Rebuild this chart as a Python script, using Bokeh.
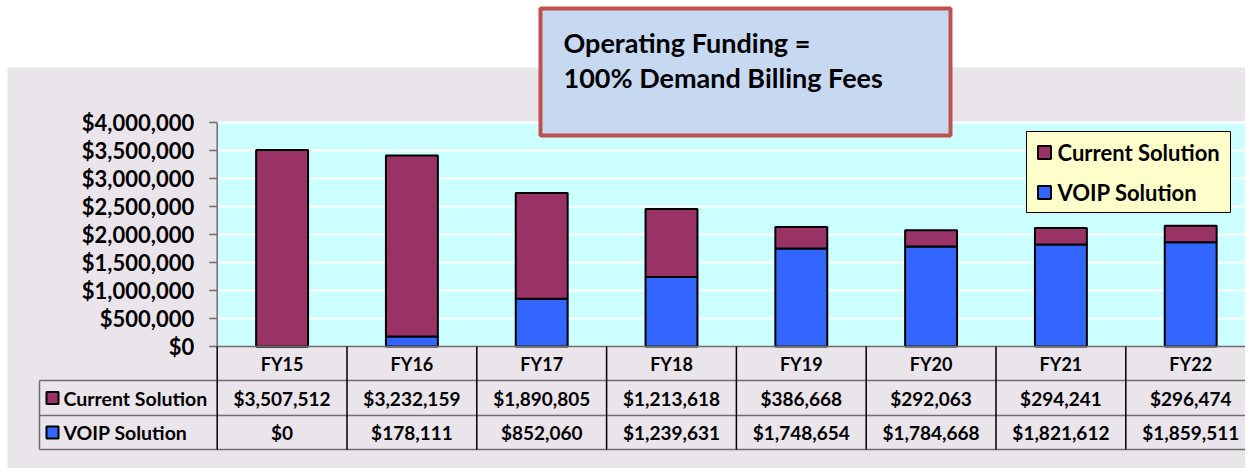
from bokeh.plotting import figure
from bokeh.models import Range1d, ColumnDataSource
from bokeh.core.properties import value
from bokeh.embed import file_html
from bokeh.resources import INLINE

# ---------------- data ----------------
categories = ["FY15", "FY16", "FY17", "FY18", "FY19", "FY20", "FY21", "FY22"]
current_solution = [3507512, 3232159, 1890805, 1213618, 386668, 292063, 294241, 296474]
voip_solution = [0, 178111, 852060, 1239631, 1748654, 1784668, 1821612, 1859511]
series_names = ["Current Solution", "VOIP Solution"]
y_ticks = [0, 500000, 1000000, 1500000, 2000000, 2500000, 3000000, 3500000, 4000000]
y_tick_labels = ["$0", "$500,000", "$1,000,000", "$1,500,000", "$2,000,000",
                 "$2,500,000", "$3,000,000", "$3,500,000", "$4,000,000"]
title_lines = ["Operating Funding =", "100% Demand Billing Fees"]

# ---------------- style ----------------
FONT = value("Lato")
MAROON = "#993366"
BLUE = "#3366FF"
PANEL = "#EAE4EB"
PLOTBG = "#CCFFFF"
LEGBG = "#FFFFCC"
BOXBG = "#C6D9F1"
BOXLINE = "#C0504D"
GRAYLINE = "#6E6E6E"

W, H = 1245, 468
PX0, STEP = 216.7, 129.8      # canvas x of plot-area left, width of one category
Y0, YTOP = 346.0, 122.0       # canvas y of $0 and of top tick
vmax = y_ticks[-1]
scale = (Y0 - YTOP) / vmax
n = len(categories)

p = figure(width=W, height=H, output_backend="svg", toolbar_location=None,
           x_range=Range1d(0, W), y_range=Range1d(H, 0), min_border=0,
           x_axis_location=None, y_axis_location=None,
           background_fill_color="white", border_fill_color="white",
           outline_line_color=None)
p.grid.visible = False
p.extra_x_ranges = {"cat": Range1d(-PX0 / STEP, (W - PX0) / STEP)}
p.extra_y_ranges = {"val": Range1d(-(H - Y0) / scale, Y0 / scale)}

# panel background
p.quad(left=[7], right=[W], top=[67], bottom=[H], fill_color=PANEL, line_color=None)

# plot area
p.quad(left=[0], right=[n], bottom=[0], top=[vmax], x_range_name="cat", y_range_name="val",
       fill_color=PLOTBG, line_color=None)
p.segment(x0=[0] * (len(y_ticks) - 1), x1=[n] * (len(y_ticks) - 1),
          y0=y_ticks[1:], y1=y_ticks[1:], x_range_name="cat", y_range_name="val",
          line_color="white", line_width=2)

# bars
xpos = [i + 0.5 for i in range(n)]
src = ColumnDataSource(dict(x=xpos, voip=voip_solution, current=current_solution))
p.vbar_stack(["voip", "current"], x="x", width=0.4, source=src,
             fill_color=[BLUE, MAROON], line_color="black", line_width=2,
             x_range_name="cat", y_range_name="val")

# y axis
p.segment(x0=[0], x1=[0], y0=[0], y1=[vmax], x_range_name="cat", y_range_name="val",
          line_color=GRAYLINE, line_width=1.5)
p.segment(x0=[PX0 - 8] * len(y_ticks), x1=[PX0] * len(y_ticks), y0=y_ticks, y1=y_ticks,
          y_range_name="val", line_color=GRAYLINE, line_width=1.5)
p.text(x=[PX0 - 23] * len(y_ticks), y=y_ticks, text=y_tick_labels, y_range_name="val",
       text_font=FONT, text_font_style="bold", text_font_size="22px",
       text_align="right", text_baseline="middle", text_color="black")

# data table
row_y = [Y0, 380, 415, 449]
p.segment(x0=[0], x1=[n], y0=[0], y1=[0], x_range_name="cat", y_range_name="val",
          line_color=GRAYLINE, line_width=1.5)
p.segment(x0=[39] * 3, x1=[W] * 3, y0=row_y[1:], y1=row_y[1:],
          line_color=GRAYLINE, line_width=1.5)
p.segment(x0=[39], x1=[39], y0=[row_y[1]], y1=[row_y[3]], line_color=GRAYLINE, line_width=1.5)
p.segment(x0=list(range(n + 1)), x1=list(range(n + 1)), y0=[Y0] * (n + 1), y1=[row_y[3]] * (n + 1),
          x_range_name="cat", line_color="black", line_width=1.5)

p.text(x=xpos, y=[(row_y[0] + row_y[1]) / 2] * n, text=categories, x_range_name="cat",
       text_font=FONT, text_font_style="bold", text_font_size="18px",
       text_align="center", text_baseline="middle", text_color="black")
p.text(x=xpos, y=[(row_y[1] + row_y[2]) / 2] * n, text=[f"${v:,}" for v in current_solution],
       x_range_name="cat", text_font=FONT, text_font_style="bold", text_font_size="19px",
       text_align="center", text_baseline="middle", text_color="black")
p.text(x=xpos, y=[(row_y[2] + row_y[3]) / 2] * n, text=[f"${v:,}" for v in voip_solution],
       x_range_name="cat", text_font=FONT, text_font_style="bold", text_font_size="19px",
       text_align="center", text_baseline="middle", text_color="black")

label_y = [(row_y[1] + row_y[2]) / 2, (row_y[2] + row_y[3]) / 2]
p.rect(x=[52, 52], y=label_y, width=12, height=12, fill_color=[MAROON, BLUE],
       line_color="black", line_width=2)
p.text(x=[63, 63], y=label_y, text=series_names, text_font=FONT, text_font_style="bold",
       text_font_size="19.5px", text_align="left", text_baseline="middle", text_color="black")

# legend
p.quad(left=[1026], right=[1230], top=[131], bottom=[212], fill_color=LEGBG,
       line_color="black", line_width=1)
p.rect(x=[1044, 1044], y=[152, 192], width=13, height=13, fill_color=[MAROON, BLUE],
       line_color="black", line_width=2)
p.text(x=[1057, 1057], y=[152, 192], text=series_names, text_font=FONT, text_font_style="bold",
       text_font_size="22px", text_align="left", text_baseline="middle", text_color="black")

# title box
p.quad(left=[540], right=[950], top=[8], bottom=[135], fill_color=BOXBG,
       line_color=BOXLINE, line_width=4)
p.text(x=[563, 563], y=[41.7, 76.7], text=title_lines, text_font=FONT, text_font_style="bold",
       text_font_size="27px", text_align="left", text_baseline="middle", text_color="black")

open("out.html", "w").write(file_html(p, INLINE))
